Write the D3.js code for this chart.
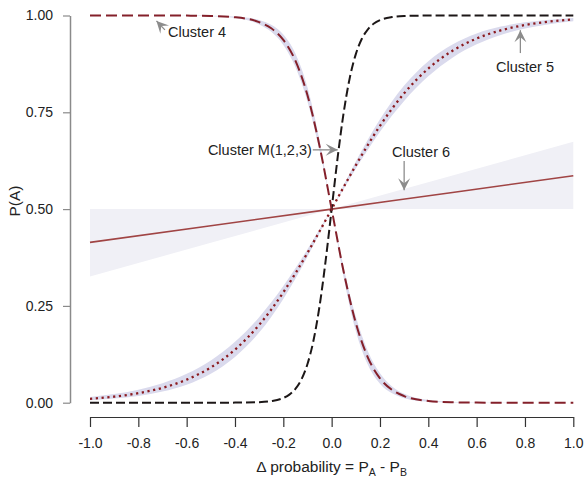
<!DOCTYPE html>
<html>
<head>
<meta charset="utf-8">
<script src="https://cdn.jsdelivr.net/npm/d3@7"></script>
<style>
  body { margin: 0; background: #fff; }
  text { font-family: "Liberation Sans", Arial, sans-serif; }
</style>
</head>
<body>
<div id="wrapper"></div>
<script>
// shared x grid for clusters 4 and 5
const xGrid = [-1, -0.9, -0.8, -0.7, -0.6, -0.5, -0.4, -0.3, -0.25, -0.2, -0.15, -0.1, -0.05, 0,
  0.05, 0.1, 0.15, 0.2, 0.25, 0.3, 0.4, 0.5, 0.6, 0.7, 0.8, 0.9, 1]

const cluster4 = [1, 1, 1, 1, 0.9997, 0.9988, 0.9955, 0.9829, 0.9669, 0.937, 0.8834, 0.7941, 0.6626, 0.5,
  0.3374, 0.2059, 0.1166, 0.063, 0.0331, 0.0171, 0.0045, 0.0012, 0.0003, 0.0001, 0, 0, 0]
const cluster4Lo = [1, 1, 1, 0.9998, 0.9994, 0.9981, 0.9933, 0.977, 0.9579, 0.9241, 0.867, 0.7773, 0.6513, 0.5,
  0.323, 0.1854, 0.098, 0.0492, 0.0241, 0.0117, 0.0027, 0.0006, 0.0001, 0, 0, 0, 0]
const cluster4Hi = [1, 1, 1, 1, 0.9999, 0.9994, 0.9973, 0.9883, 0.9759, 0.9508, 0.902, 0.8146, 0.677, 0.5,
  0.3487, 0.2227, 0.133, 0.0759, 0.0421, 0.023, 0.0067, 0.0019, 0.0006, 0.0002, 0, 0, 0]

const cluster5 = [0.01, 0.0157, 0.0246, 0.0384, 0.0595, 0.0911, 0.137, 0.201, 0.2405, 0.285, 0.334, 0.387, 0.4427, 0.5,
  0.5573, 0.613, 0.666, 0.715, 0.7595, 0.799, 0.863, 0.9089, 0.9405, 0.9616, 0.9754, 0.9843, 0.99]
const cluster5Lo = [0.0065, 0.0107, 0.0175, 0.0287, 0.0465, 0.0748, 0.118, 0.181, 0.2215, 0.268, 0.32, 0.377, 0.4375, 0.5,
  0.5525, 0.6045, 0.6535, 0.6995, 0.7415, 0.7795, 0.843, 0.891, 0.9255, 0.9498, 0.9664, 0.9777, 0.9852]
const cluster5Hi = [0.0148, 0.0223, 0.0336, 0.0502, 0.0745, 0.1091, 0.1571, 0.221, 0.2592, 0.3015, 0.3475, 0.3965, 0.4477, 0.5,
  0.5625, 0.623, 0.68, 0.732, 0.7785, 0.819, 0.882, 0.925, 0.9535, 0.9713, 0.9825, 0.9893, 0.9935]

// cluster M(1,2,3) is steep, so it gets a finer grid near 0
const xM = [-1, -0.5, -0.4, -0.3, -0.25, -0.2, -0.175, -0.15, -0.125, -0.1, -0.075, -0.05, -0.025, 0,
  0.025, 0.05, 0.075, 0.1, 0.125, 0.15, 0.175, 0.2, 0.25, 0.3, 0.4, 0.5, 1]
const clusterM = [0, 0, 0.0002, 0.0014, 0.0041, 0.0121, 0.0208, 0.0356, 0.0601, 0.0998, 0.1611, 0.2497, 0.366, 0.5,
  0.634, 0.7503, 0.8389, 0.9002, 0.9399, 0.9644, 0.9792, 0.9879, 0.9959, 0.9986, 0.9998, 1, 1]

const x6 = [-1, -0.5, 0, 0.5, 1]
const cluster6 = [0.414, 0.457, 0.5, 0.543, 0.586]
const cluster6Lo = [0.326, 0.413, 0.5, 0.5, 0.5]
const cluster6Hi = [0.5, 0.5, 0.5, 0.587, 0.674]

const xTicks = [-1, -0.8, -0.6, -0.4, -0.2, 0, 0.2, 0.4, 0.6, 0.8, 1]
const yTicks = [0, 0.25, 0.5, 0.75, 1]

// annotations: label, arrow head, arrow tail, text anchor point (data units)
const notes = [
  { label: "Cluster 4", head: [-0.725, 0.986], tail: [-0.69, 0.963], text: [-0.677, 0.958], anchor: "start" },
  { label: "Cluster 5", head: [0.781, 0.962], tail: [0.781, 0.903], text: [0.80, 0.868], anchor: "middle" },
  { label: "Cluster 6", head: [0.30, 0.549], tail: [0.30, 0.624], text: [0.37, 0.648], anchor: "middle" },
  { label: "Cluster M(1,2,3)", head: [0.025, 0.653], tail: [-0.078, 0.653], text: [-0.082, 0.653], anchor: "end" },
]

const dimensions = {
  width: 584,
  height: 482,
  margins: { top: 15.5, right: 10.7, bottom: 79.3, left: 90 },
}
dimensions.boundedWidth = dimensions.width - dimensions.margins.left - dimensions.margins.right
dimensions.boundedHeight = dimensions.height - dimensions.margins.top - dimensions.margins.bottom

const svg = d3.select("#wrapper").append("svg")
  .attr("width", dimensions.width)
  .attr("height", dimensions.height)

const bounds = svg.append("g")
  .attr("transform", `translate(${dimensions.margins.left},${dimensions.margins.top})`)

const xScale = d3.scaleLinear().domain([-1, 1]).range([0, dimensions.boundedWidth])
const yScale = d3.scaleLinear().domain([0, 1]).range([dimensions.boundedHeight, 0])

const toRows = (xs, ys, lo, hi) => xs.map((x, i) => ({ x, y: ys[i], lo: lo ? lo[i] : null, hi: hi ? hi[i] : null }))

const area = d3.area()
  .x(d => xScale(d.x))
  .y0(d => yScale(d.lo))
  .y1(d => yScale(d.hi))

const line = d3.line()
  .x(d => xScale(d.x))
  .y(d => yScale(d.y))
  .curve(d3.curveMonotoneX)

const rows6 = toRows(x6, cluster6, cluster6Lo, cluster6Hi)
const rows5 = toRows(xGrid, cluster5, cluster5Lo, cluster5Hi)
const rows4 = toRows(xGrid, cluster4, cluster4Lo, cluster4Hi)
const rowsM = toRows(xM, clusterM)

// bands
bounds.append("path").attr("d", area.curve(d3.curveLinear)(rows6)).attr("fill", "#f0f0f6")
area.curve(d3.curveMonotoneX)
bounds.append("path").attr("d", area(rows5)).attr("fill", "#dadaed")
bounds.append("path").attr("d", area(rows4)).attr("fill", "#dadaed")

// lines
bounds.append("path").attr("d", line(rows6))
  .attr("fill", "none").attr("stroke", "#a04444").attr("stroke-width", 1.6)
bounds.append("path").attr("d", line(rows5))
  .attr("fill", "none").attr("stroke", "#8b1a1f").attr("stroke-width", 2.3)
  .attr("stroke-dasharray", "2.2,3.6")
bounds.append("path").attr("d", line(rowsM))
  .attr("fill", "none").attr("stroke", "#1c1717").attr("stroke-width", 2)
  .attr("stroke-dasharray", "9,4")
bounds.append("path").attr("d", line(rows4))
  .attr("fill", "none").attr("stroke", "#84202a").attr("stroke-width", 2)
  .attr("stroke-dasharray", "11,5")

// axes
const yAxis = bounds.append("g")
  .attr("transform", "translate(-20,0)")
  .call(d3.axisLeft(yScale).tickValues(yTicks).tickFormat(d3.format(".2f")).tickSize(7).tickPadding(10).tickSizeOuter(0))
yAxis.select(".domain").attr("stroke", "#8a8a8a").attr("stroke-width", 1.5)
yAxis.selectAll(".tick line").attr("stroke", "#8a8a8a").attr("stroke-width", 1.2)
yAxis.selectAll(".tick text").attr("font-size", 14).attr("fill", "#222")
  .attr("font-family", "'Liberation Sans', Arial, sans-serif")

const xAxis = bounds.append("g")
  .attr("transform", `translate(0,${dimensions.boundedHeight + 14.3})`)
  .call(d3.axisBottom(xScale).tickValues(xTicks).tickFormat(d3.format(".1f")).tickSize(10).tickPadding(11).tickSizeOuter(0))
xAxis.select(".domain").attr("stroke", "#333").attr("stroke-width", 1.2)
xAxis.selectAll(".tick line").attr("stroke", "#333").attr("stroke-width", 1.2)
xAxis.selectAll(".tick text").attr("font-size", 14).attr("fill", "#222")
  .attr("font-family", "'Liberation Sans', Arial, sans-serif")
  .text(d => d3.format(".1f")(d).replace("−", "-"))

// axis titles
const xTitle = svg.append("text")
  .attr("x", dimensions.margins.left + xScale(0))
  .attr("y", 472)
  .attr("text-anchor", "middle")
  .attr("font-size", 15.5)
  .attr("fill", "#222")
xTitle.append("tspan").text("Δ probability = P")
xTitle.append("tspan").attr("font-size", 10.5).attr("dy", 4).text("A")
xTitle.append("tspan").attr("dy", -4).text(" - P")
xTitle.append("tspan").attr("font-size", 10.5).attr("dy", 4).text("B")

svg.append("text")
  .attr("transform", `translate(20,${dimensions.margins.top + yScale(0.5) - 8}) rotate(-90)`)
  .attr("text-anchor", "middle")
  .attr("font-size", 15.5)
  .attr("fill", "#222")
  .text("P(A)")

// annotations with stealth arrows
const noteG = bounds.append("g")
notes.forEach(n => {
  const hx = xScale(n.head[0]), hy = yScale(n.head[1])
  const tx = xScale(n.tail[0]), ty = yScale(n.tail[1])
  const ang = Math.atan2(hy - ty, hx - tx) * 180 / Math.PI
  noteG.append("line")
    .attr("x1", tx).attr("y1", ty).attr("x2", hx).attr("y2", hy)
    .attr("stroke", "#8c8c8c").attr("stroke-width", 1.3)
  noteG.append("path")
    .attr("d", "M0,0 L-12,-6 L-7,0 L-12,6 Z")
    .attr("transform", `translate(${hx},${hy}) rotate(${ang})`)
    .attr("fill", "#8c8c8c")
  noteG.append("text")
    .attr("x", xScale(n.text[0]))
    .attr("y", yScale(n.text[1]))
    .attr("dy", "0.35em")
    .attr("text-anchor", n.anchor)
    .attr("font-size", 14.5)
    .attr("fill", "#222")
    .text(n.label)
})
</script>
</body>
</html>
